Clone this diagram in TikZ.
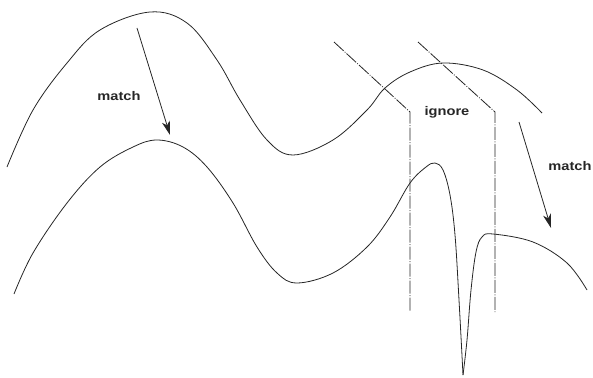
\documentclass[tikz,border=0pt]{standalone}
\usepackage{fontspec}
\setmainfont{Liberation Sans}
\usetikzlibrary{arrows.meta}
\begin{document}
\begin{tikzpicture}[x=1pt,y=-1pt,
  curve/.style={line width=0.8pt, black!85},
  dd/.style={line width=0.8pt, black!85, dash pattern=on 13pt off 1.5pt on 1pt off 1.5pt},
  arr/.style={line width=0.8pt, black!85, -{Stealth[length=14pt,width=8pt,inset=4pt]}},
  lbl/.style={font=\fontsize{12.5}{15}\selectfont\bfseries, xscale=1.17, text=black!85, inner sep=0pt}]
\useasboundingbox (0,0) rectangle (593,377);
% upper curve
\draw[curve] plot[smooth, tension=0.6] coordinates {(7,167) (33,110) (67,63) (100,30) (150,12) (187,23) (217,60) (240,100) (267,140) (293,155) (333,140) (367,110) (385,88) (410,72) (443,63) (483,70) (517,90) (542,113)};
% lower curve
\draw[curve] plot[smooth, tension=0.6] coordinates {(14,294) (33,253) (67,203) (100,167) (133,147) (157,140) (183,147) (207,167) (233,203) (257,247) (277,273) (297,283) (333,273) (367,247) (390,217) (410,183) (426,167) (435,163) (443,170) (450,195) (455,235) (459,300) (463,375)};
\draw[curve] plot[smooth, tension=0.6] coordinates {(463,375) (467,340) (471,290) (476,252) (482,237) (493,234) (533,242) (567,263) (587,290)};
% dash-dot boundaries
\coordinate (l1) at (334,42); \coordinate (l2) at (410,112); \coordinate (l3) at (410,312);
\coordinate (r1) at (418,42); \coordinate (r2) at (495,112); \coordinate (r3) at (495,312);
\draw[dd] (l1) -- (l2) -- (l3);
\draw[dd] (r1) -- (r2) -- (r3);
% labels
\node[lbl] (m1) at (119,96) {match};
\node[lbl] (ig) at (447,112) {ignore};
\node[lbl] (m2) at (570,166) {match};
% arrows
\coordinate (a1s) at (137,28); \coordinate (a1e) at (170,135);
\coordinate (a2s) at (519,122); \coordinate (a2e) at (551,228);
\draw[arr] (a1s) -- (a1e);
\draw[arr] (a2s) -- (a2e);
\end{tikzpicture}
\end{document}
